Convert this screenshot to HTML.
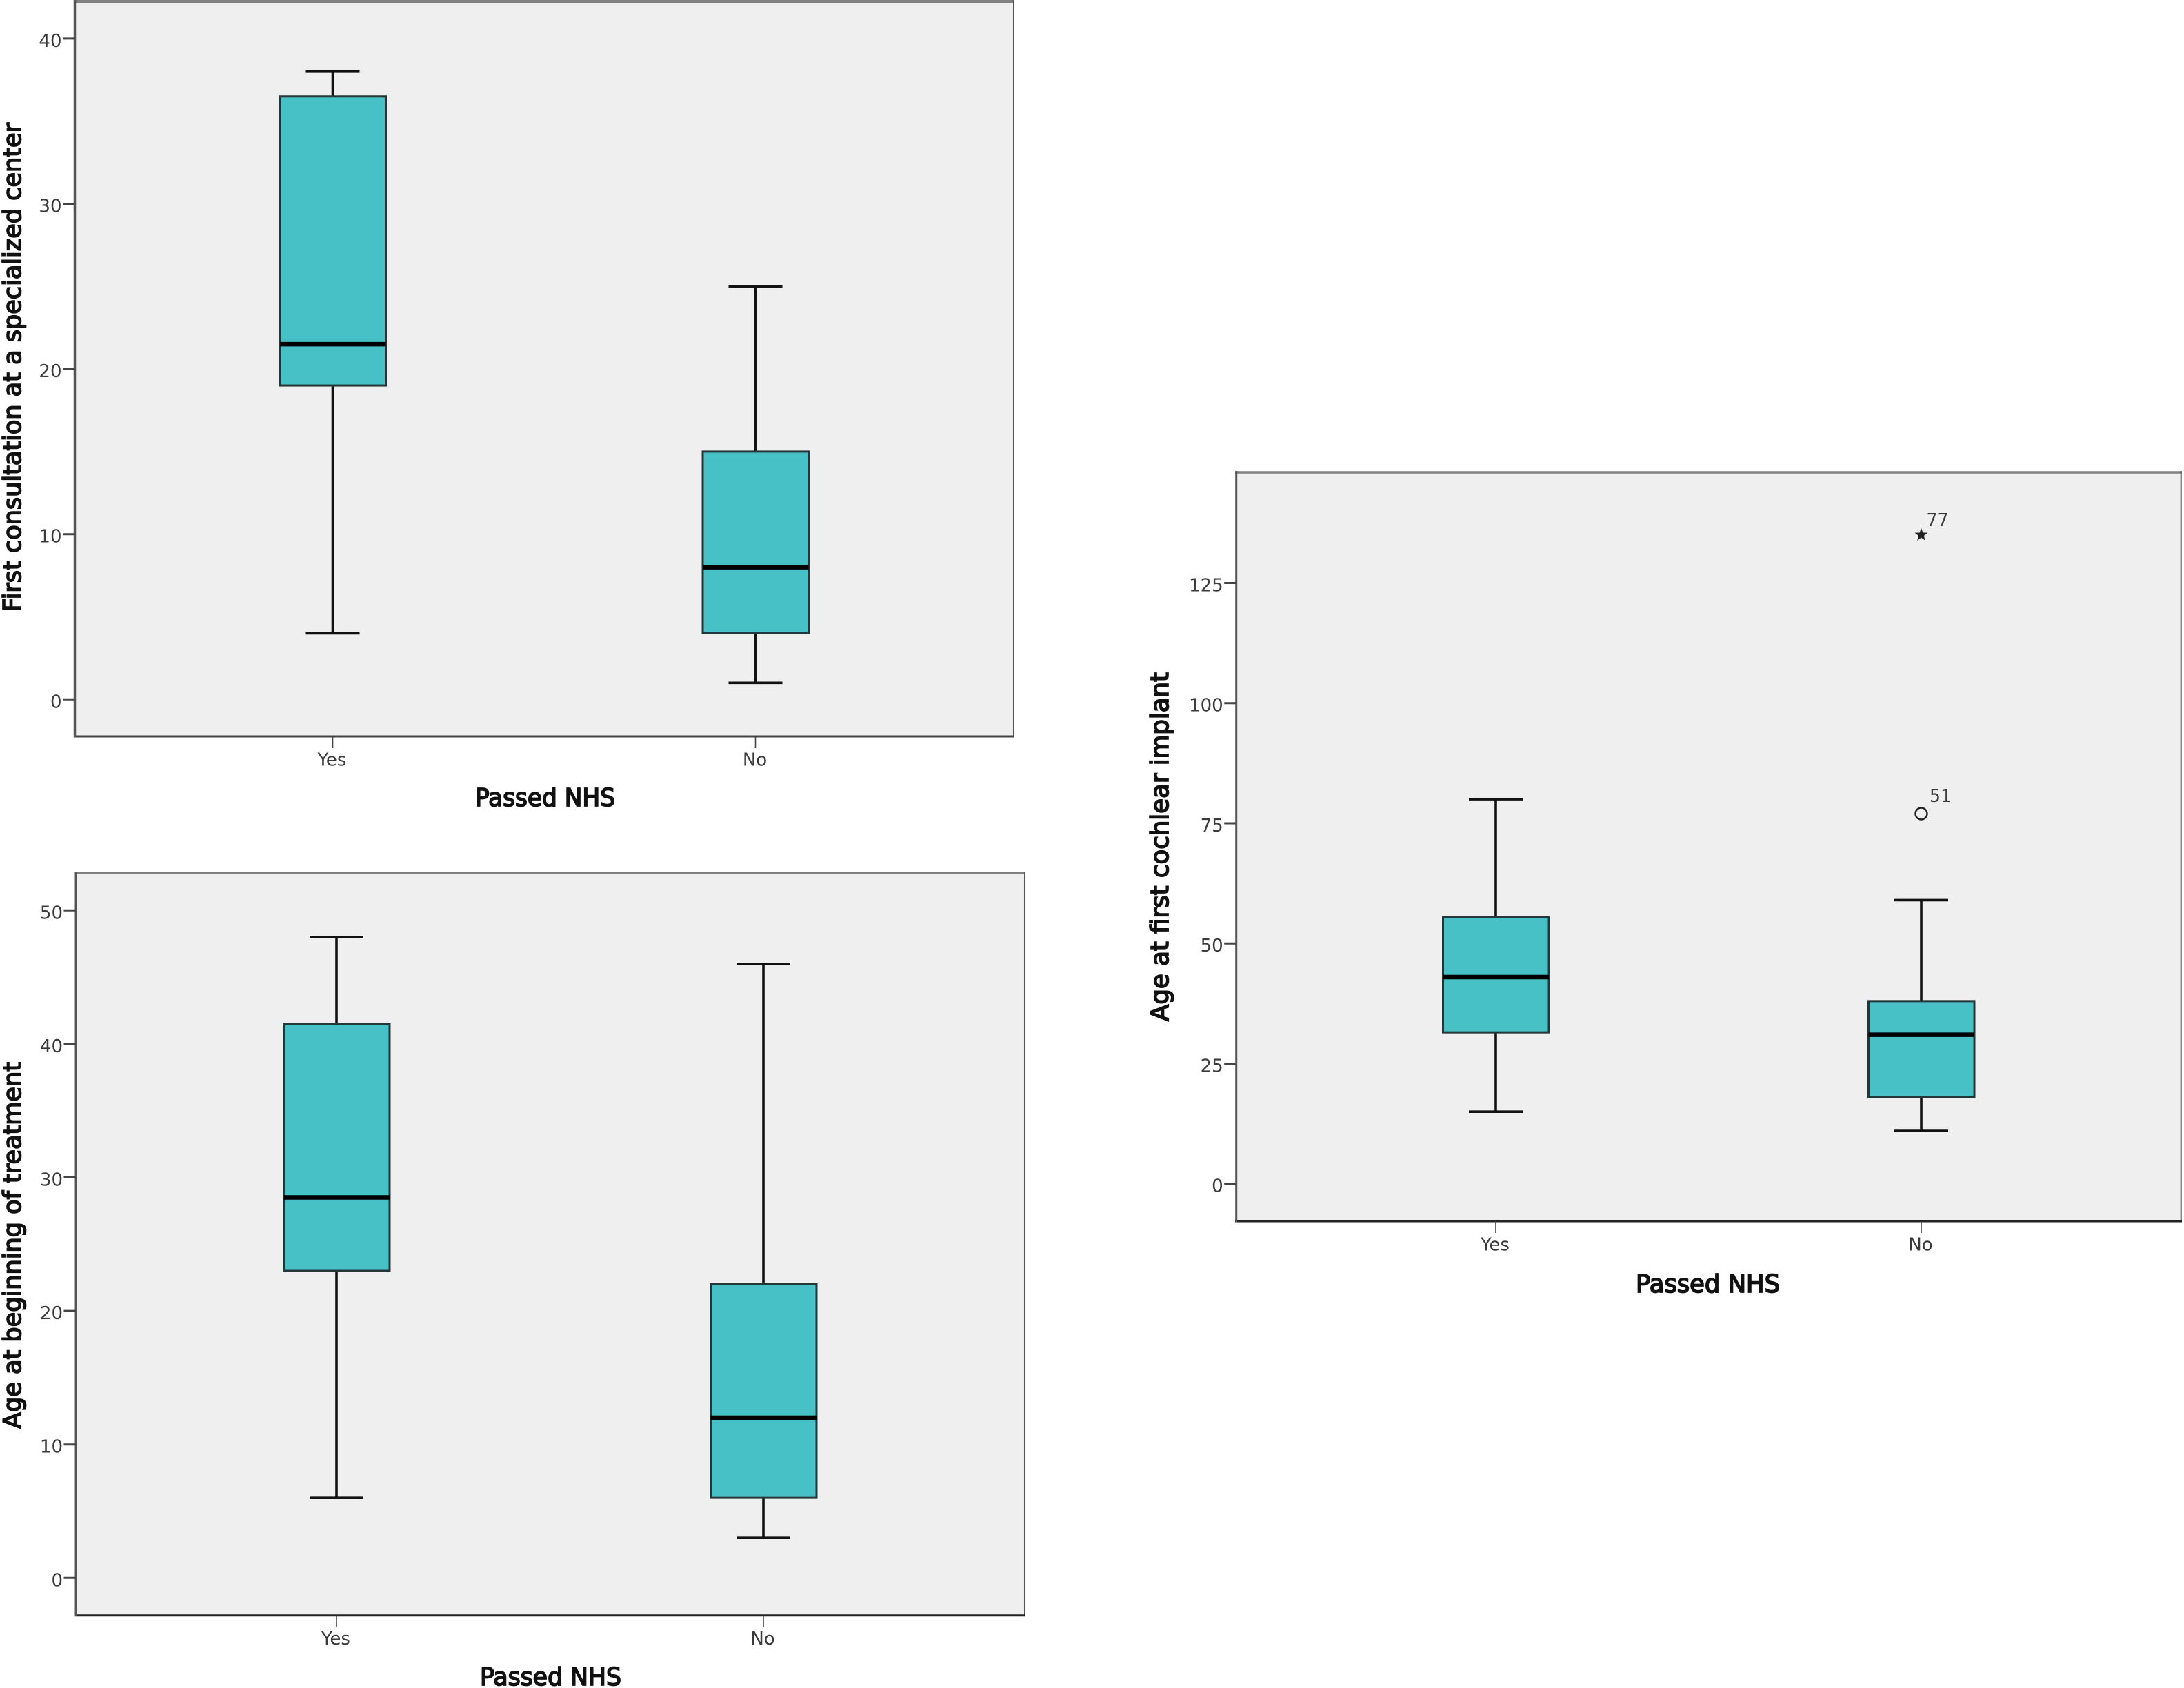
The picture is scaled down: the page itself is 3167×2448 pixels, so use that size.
<!DOCTYPE html>
<html lang="en">
<head>
<meta charset="utf-8">
<title>Box plots by Passed NHS</title>
<style>
html,body{margin:0;padding:0;background:#fff;width:3167px;height:2448px;overflow:hidden}
svg{display:block}
text{font-family:"DejaVu Sans","Liberation Sans",sans-serif;fill:#222}
.tick{font-size:26px;fill:#3a3a3a}
.title{font-size:36px;fill:#111;stroke:#111;stroke-width:1.7px}
</style>
</head>
<body>
<svg id="figure" xmlns="http://www.w3.org/2000/svg" width="3167" height="2448" viewBox="0 0 3167 2448">
  <rect x="0" y="0" width="3167" height="2448" fill="#ffffff"/>

  <g id="panel-a">
    <rect x="108.5" y="2" width="1361.5" height="1066" fill="#efefef"/>
    <line x1="107" y1="2" x2="1471" y2="2" stroke="#808080" stroke-width="4"/>
    <line x1="1470" y1="0" x2="1470" y2="1069" stroke="#555" stroke-width="2"/>
    <line x1="107" y1="1068" x2="1471" y2="1068" stroke="#444" stroke-width="3"/>
    <line x1="108.5" y1="0" x2="108.5" y2="1069" stroke="#555" stroke-width="3.5"/>
    <text class="title" transform="translate(30,887) rotate(-90)" textLength="709" lengthAdjust="spacingAndGlyphs">First consultation at a specialized center</text>
    <text class="title" x="689" y="1169" textLength="203" lengthAdjust="spacingAndGlyphs">Passed NHS</text>
  </g>

  <g id="panel-b">
    <rect x="110" y="1266" width="1376" height="1077" fill="#efefef"/>
    <line x1="108.5" y1="1266" x2="1487" y2="1266" stroke="#808080" stroke-width="4"/>
    <line x1="1486" y1="1264" x2="1486" y2="2344" stroke="#555" stroke-width="2"/>
    <line x1="108.5" y1="2342.7" x2="1487" y2="2342.7" stroke="#222" stroke-width="3"/>
    <line x1="110" y1="1264" x2="110" y2="2344" stroke="#555" stroke-width="3"/>
    <text class="title" transform="translate(30,2072) rotate(-90)" textLength="532" lengthAdjust="spacingAndGlyphs">Age at beginning of treatment</text>
    <text class="title" x="696" y="2444" textLength="205" lengthAdjust="spacingAndGlyphs">Passed NHS</text>
  </g>

  <g id="panel-c">
    <rect x="1792.7" y="685" width="1370" height="1086" fill="#efefef"/>
    <line x1="1791" y1="685" x2="3164" y2="685" stroke="#808080" stroke-width="3.5"/>
    <line x1="3162.7" y1="683" x2="3162.7" y2="1772" stroke="#555" stroke-width="2"/>
    <line x1="1791" y1="1771" x2="3164" y2="1771" stroke="#222" stroke-width="3"/>
    <line x1="1792.7" y1="683" x2="1792.7" y2="1772" stroke="#555" stroke-width="3"/>
    <text class="title" transform="translate(1694,1481) rotate(-90)" textLength="506" lengthAdjust="spacingAndGlyphs">Age at first cochlear implant</text>
    <text class="title" x="2372" y="1874" textLength="209" lengthAdjust="spacingAndGlyphs">Passed NHS</text>
  </g>
</svg>

<script>
// Shared categories
const categories = ['Yes', 'No'];

// First consultation at a specialized center: [low whisker, Q1, median, Q3, high whisker]
const consultationTicks = [0, 10, 20, 30, 40];
const consultationYes = [4, 19, 21.5, 36.5, 38];
const consultationNo = [1, 4, 8, 15, 25];

// Age at beginning of treatment
const treatmentTicks = [0, 10, 20, 30, 40, 50];
const treatmentYes = [6, 23, 28.5, 41.5, 48];
const treatmentNo = [3, 6, 12, 22, 46];

// Age at first cochlear implant
const implantTicks = [0, 25, 50, 75, 100, 125];
const implantYes = [15, 31.5, 43, 55.5, 80];
const implantNo = [11, 18, 31, 38, 59];
const implantOutlierValue = [77];
const implantOutlierCase = ['51'];
const implantExtremeValue = [135];
const implantExtremeCase = ['77'];

const SVG_NS = 'http://www.w3.org/2000/svg';

function make(parent, tag, attrs) {
  const node = document.createElementNS(SVG_NS, tag);
  for (const key in attrs) node.setAttribute(key, attrs[key]);
  parent.appendChild(node);
  return node;
}

function drawPanel(panelId, prefix, frame, tickValues, seriesList) {
  const parent = document.getElementById(panelId);
  const yScale = function (v) { return frame.zeroY - v * frame.pxPerUnit; };
  const xScale = function (i) { return frame.firstX + i * frame.stepX; };

  tickValues.forEach(function (t) {
    const mark = make(parent, 'line', { x1: frame.left - 17.5, x2: frame.left, y1: yScale(t), y2: yScale(t), stroke: '#444', 'stroke-width': 3 });
    
    
    const label = make(parent, 'text', { class: 'tick', x: frame.left - 19, y: yScale(t) + 12, 'text-anchor': 'end' });
    
    
    label.textContent = String(t);
  });

  categories.forEach(function (cat, i) {
    const cx = xScale(i);
    const stats = seriesList[i];
    const mark = make(parent, 'line', { x1: cx, x2: cx, y1: frame.bottom, y2: frame.bottom + 17, stroke: '#444', 'stroke-width': 1.6 });
    
    
    const label = make(parent, 'text', { class: 'tick', x: cx - 1, y: frame.bottom + 42.5, 'text-anchor': 'middle' });
    
    
    label.textContent = cat;

    const low = yScale(stats[0]);
    const q1 = yScale(stats[1]);
    const med = yScale(stats[2]);
    const q3 = yScale(stats[3]);
    const high = yScale(stats[4]);
    const key = prefix + '-' + cat.toLowerCase();

    const whisker = make(parent, 'line', { x1: cx, x2: cx, y1: low, y2: high, stroke: '#111', 'stroke-width': 3.6 });
    
    
    const capLow = make(parent, 'line', { x1: cx - 39, x2: cx + 39, y1: low, y2: low, stroke: '#111', 'stroke-width': 3.6 });
    
    
    const capHigh = make(parent, 'line', { x1: cx - 39, x2: cx + 39, y1: high, y2: high, stroke: '#111', 'stroke-width': 3.6 });
    
    
    const box = make(parent, 'rect', { x: cx - 76.5, y: q3, width: 153.5, height: q1 - q3, fill: '#47c1c5', stroke: '#243638', 'stroke-width': 3 });
    
    
    const median = make(parent, 'line', { x1: cx - 76.5, x2: cx + 77, y1: med, y2: med, stroke: '#000', 'stroke-width': 6.5 });
    
    
  });

  return { parent: parent, xScale: xScale, yScale: yScale };
}

drawPanel('panel-a', 'consultation',
  { left: 108.5, bottom: 1068, zeroY: 1014.3, pxPerUnit: 23.96, firstX: 482.5, stepX: 613 },
  consultationTicks, [consultationYes, consultationNo]);

drawPanel('panel-b', 'treatment',
  { left: 110, bottom: 2342.7, zeroY: 2288.3, pxPerUnit: 19.36, firstX: 488, stepX: 619 },
  treatmentTicks, [treatmentYes, treatmentNo]);

const implantAxes = drawPanel('panel-c', 'implant',
  { left: 1792.7, bottom: 1771, zeroY: 1716.7, pxPerUnit: 6.97, firstX: 2169, stepX: 617 },
  implantTicks, [implantYes, implantNo]);

implantOutlierValue.forEach(function (v, i) {
  const cx = implantAxes.xScale(1);
  const cy = implantAxes.yScale(v);
  const dot = make(implantAxes.parent, 'circle', { cx: cx, cy: cy, r: 8.5, fill: 'none', stroke: '#222', 'stroke-width': 2.4 });
  
  
  const label = make(implantAxes.parent, 'text', { class: 'tick', x: cx + 12, y: cy - 17, textLength: 32, lengthAdjust: 'spacingAndGlyphs' });
  
  
  label.textContent = implantOutlierCase[i];
});

implantExtremeValue.forEach(function (v, i) {
  const cx = implantAxes.xScale(1);
  const cy = implantAxes.yScale(v);
  const points = [];
  for (let k = 0; k < 10; k++) {
    const radius = k % 2 === 0 ? 10 : 4;
    const angle = -Math.PI / 2 + k * Math.PI / 5;
    points.push((cx + radius * Math.cos(angle)).toFixed(2) + ',' + (cy + radius * Math.sin(angle)).toFixed(2));
  }
  const star = make(implantAxes.parent, 'polygon', { points: points.join(' '), fill: '#222' });
  
  
  const label = make(implantAxes.parent, 'text', { class: 'tick', x: cx + 7.5, y: cy - 13, textLength: 32, lengthAdjust: 'spacingAndGlyphs' });
  
  
  label.textContent = implantExtremeCase[i];
});
</script>
</body>
</html>
